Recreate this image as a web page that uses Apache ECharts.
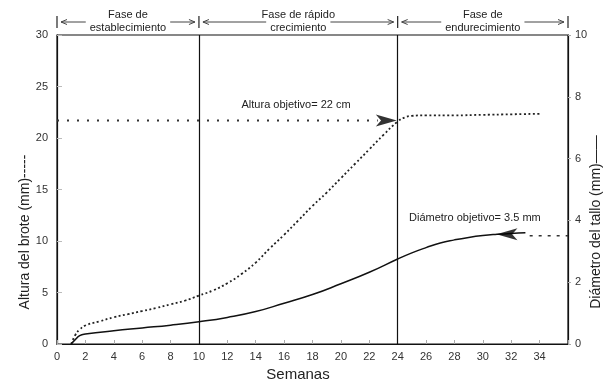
<!DOCTYPE html>
<html><head><meta charset="utf-8">
<script src="https://cdn.jsdelivr.net/npm/echarts@6/dist/echarts.min.js"></script>
<style>html,body{margin:0;padding:0;background:#fff}#c{width:608px;height:383px}</style>
</head><body><div id="c"></div>
<script>
// ---- data ----
const weeksH = [1.0,1.3,1.6,2,3,4,5,6,7,8,9,10,11,12,13,14,15,16,17,18,19,20,21,22,23,24,24.5,25,26,28,30,32,34];
const heightMM = [0,0.9,1.4,1.8,2.2,2.6,2.9,3.2,3.5,3.85,4.2,4.7,5.2,5.9,6.8,7.9,9.3,10.6,12.0,13.4,14.7,16.1,17.5,18.9,20.3,21.6,22.0,22.15,22.2,22.2,22.25,22.3,22.35];
const weeksD = [1.0,1.3,1.6,2,4,6,8,10,12,14,16,18,20,22,24,25,26,27,28,29,30,31,32,33];
const diamMM = [0,0.15,0.27,0.32,0.43,0.52,0.61,0.72,0.86,1.05,1.32,1.6,1.95,2.32,2.75,2.95,3.12,3.27,3.37,3.45,3.51,3.55,3.58,3.6];
const phaseBounds = [0,10,24,36];
const phaseTop = ['Fase de','Fase de rápido','Fase de'];
const phaseBottom = ['establecimiento','crecimiento','endurecimiento'];
const heightTarget = 21.7, heightTargetEnd = 22.6, heightArrowAt = 23.2;
const diamTarget = 3.5, diamTargetStart = 33.3, diamArrowAt = 31.7, diamArrowLevel = 3.55;
const heightLabel = 'Altura objetivo= 22 cm';
const diamLabel = 'Diámetro objetivo= 3.5 mm';

const FONT = '"Liberation Sans", Arial, Helvetica, sans-serif';
const zip = (a,b) => a.map((v,i)=>[v,b[i]]);
const arrowPath = 'path://M5,0 L10,20 L5,15 L0,20 Z';

const chart = echarts.init(document.getElementById('c'), null, {renderer:'canvas'});
const option = {
  animation:false,
  backgroundColor:'#fff',
  textStyle:{fontFamily:FONT},
  grid:{left:57,right:40,top:35,bottom:39,show:true,borderColor:'#111',borderWidth:1.2,backgroundColor:'transparent'},
  xAxis:{type:'value',min:0,max:36,interval:2,
    axisLine:{lineStyle:{color:'#111',width:1.2}},
    axisTick:{inside:true,length:4,lineStyle:{color:'#aaa'}},
    axisLabel:{color:'#333',fontSize:11,margin:7,fontFamily:FONT,formatter:v=> v>=36?'':String(v)},
    splitLine:{show:false}},
  yAxis:[
    {type:'value',min:0,max:30,interval:5,position:'left',
     axisLine:{show:true,lineStyle:{color:'#111',width:1.2}},
     axisTick:{show:true,inside:true,length:5,lineStyle:{color:'#bbb'}},
     axisLabel:{color:'#333',fontSize:11,margin:9,fontFamily:FONT},
     splitLine:{show:false}},
    {type:'value',min:0,max:10,interval:2,position:'right',
     axisLine:{show:true,lineStyle:{color:'#111',width:1.2}},
     axisTick:{show:true,length:3,lineStyle:{color:'#aaa'}},
     axisLabel:{color:'#333',fontSize:11,margin:7,fontFamily:FONT},
     splitLine:{show:false}}
  ],
  series:[
    {type:'line',yAxisIndex:0,data:zip(weeksH,heightMM),smooth:0.5,symbol:'none',
     lineStyle:{color:'#222',width:1.8,type:[2,2.5]},z:3,
     markLine:{silent:true,symbol:'none',label:{show:false},
       lineStyle:{color:'#111',width:1.2,type:'solid'},
       data:[{xAxis:phaseBounds[1]},{xAxis:phaseBounds[2]}]}},
    {type:'line',yAxisIndex:1,data:zip(weeksD,diamMM),smooth:0.5,symbol:'none',
     lineStyle:{color:'#111',width:1.5},z:3},
    {type:'line',yAxisIndex:0,data:[[0,heightTarget],[heightTargetEnd,heightTarget]],symbol:'none',
     lineStyle:{color:'#333',width:1.8,type:[2,8]},z:2},
    {type:'line',yAxisIndex:1,data:[[diamTargetStart,diamTarget],[36,diamTarget]],symbol:'none',
     lineStyle:{color:'#333',width:1.5,type:[3,6]},z:2},
    {type:'scatter',yAxisIndex:0,data:[[heightArrowAt,heightTarget]],symbol:arrowPath,symbolSize:[12,21],
     symbolRotate:-90,itemStyle:{color:'#000'},z:5,silent:true},
    {type:'scatter',yAxisIndex:1,data:[[diamArrowAt,diamArrowLevel]],symbol:arrowPath,symbolSize:[12,21],
     symbolRotate:90,itemStyle:{color:'#000'},z:5,silent:true}
  ]
};
chart.setOption(option);

// ---- annotations ----
const cv = document.createElement('canvas').getContext('2d');
function tw(t, size){ cv.font = size+'px '+FONT; return cv.measureText(t).width; }
const px = (x)=> chart.convertToPixel({xAxisIndex:0}, x);
const pyL = (y)=> chart.convertToPixel({yAxisIndex:0}, y);
const pyR = (y)=> chart.convertToPixel({yAxisIndex:1}, y);

const g = [];
const lineSt = {stroke:'#444',lineWidth:1};
const barSt = {stroke:'#222',lineWidth:1.2};
function txt(t,x,y,size,extra){ return Object.assign({type:'text',x:x,y:y,silent:true,
  style:{text:t,font:size+'px '+FONT,fill:'#222',align:'center',verticalAlign:'middle'}},extra||{}); }

phaseBounds.forEach(b=>{ const x=px(b); g.push({type:'line',silent:true,shape:{x1:x,y1:16,x2:x,y2:28},style:barSt}); });
for(let i=0;i<3;i++){
  const xa=px(phaseBounds[i]), xb=px(phaseBounds[i+1]), cx=(xa+xb)/2;
  g.push(txt(phaseTop[i],cx,15,11));
  g.push(txt(phaseBottom[i],cx,28,11));
  const w = tw(phaseBottom[i],11);
  const ay = 22;
  const l1 = xa+4, l2 = cx-w/2-4, r1 = cx+w/2+4, r2 = xb-4;
  g.push({type:'line',silent:true,shape:{x1:l1,y1:ay,x2:l2,y2:ay},style:lineSt});
  g.push({type:'polyline',silent:true,shape:{points:[[l1+6,ay-2.5],[l1,ay],[l1+6,ay+2.5]]},style:lineSt});
  g.push({type:'line',silent:true,shape:{x1:r1,y1:ay,x2:r2,y2:ay},style:lineSt});
  g.push({type:'polyline',silent:true,shape:{points:[[r2-6,ay-2.5],[r2,ay],[r2-6,ay+2.5]]},style:lineSt});
}
// target labels
g.push(txt(heightLabel, px(13.0), pyL(23.2), 11, {style:{text:heightLabel,font:'11px '+FONT,fill:'#222',align:'left',verticalAlign:'middle'}}));
g.push(txt(diamLabel, px(24.8), pyR(4.08), 11, {style:{text:diamLabel,font:'11px '+FONT,fill:'#222',align:'left',verticalAlign:'middle'}}));
// axis names
g.push(txt('Altura del brote (mm)-----', 25, 232, 14, {rotation:Math.PI/2}));
g.push(txt('Diámetro del tallo (mm)——', 596, 222, 14, {rotation:Math.PI/2}));
g.push(txt('Semanas', 298, 375, 15));
chart.setOption({graphic:{elements:g}});
</script></body></html>
